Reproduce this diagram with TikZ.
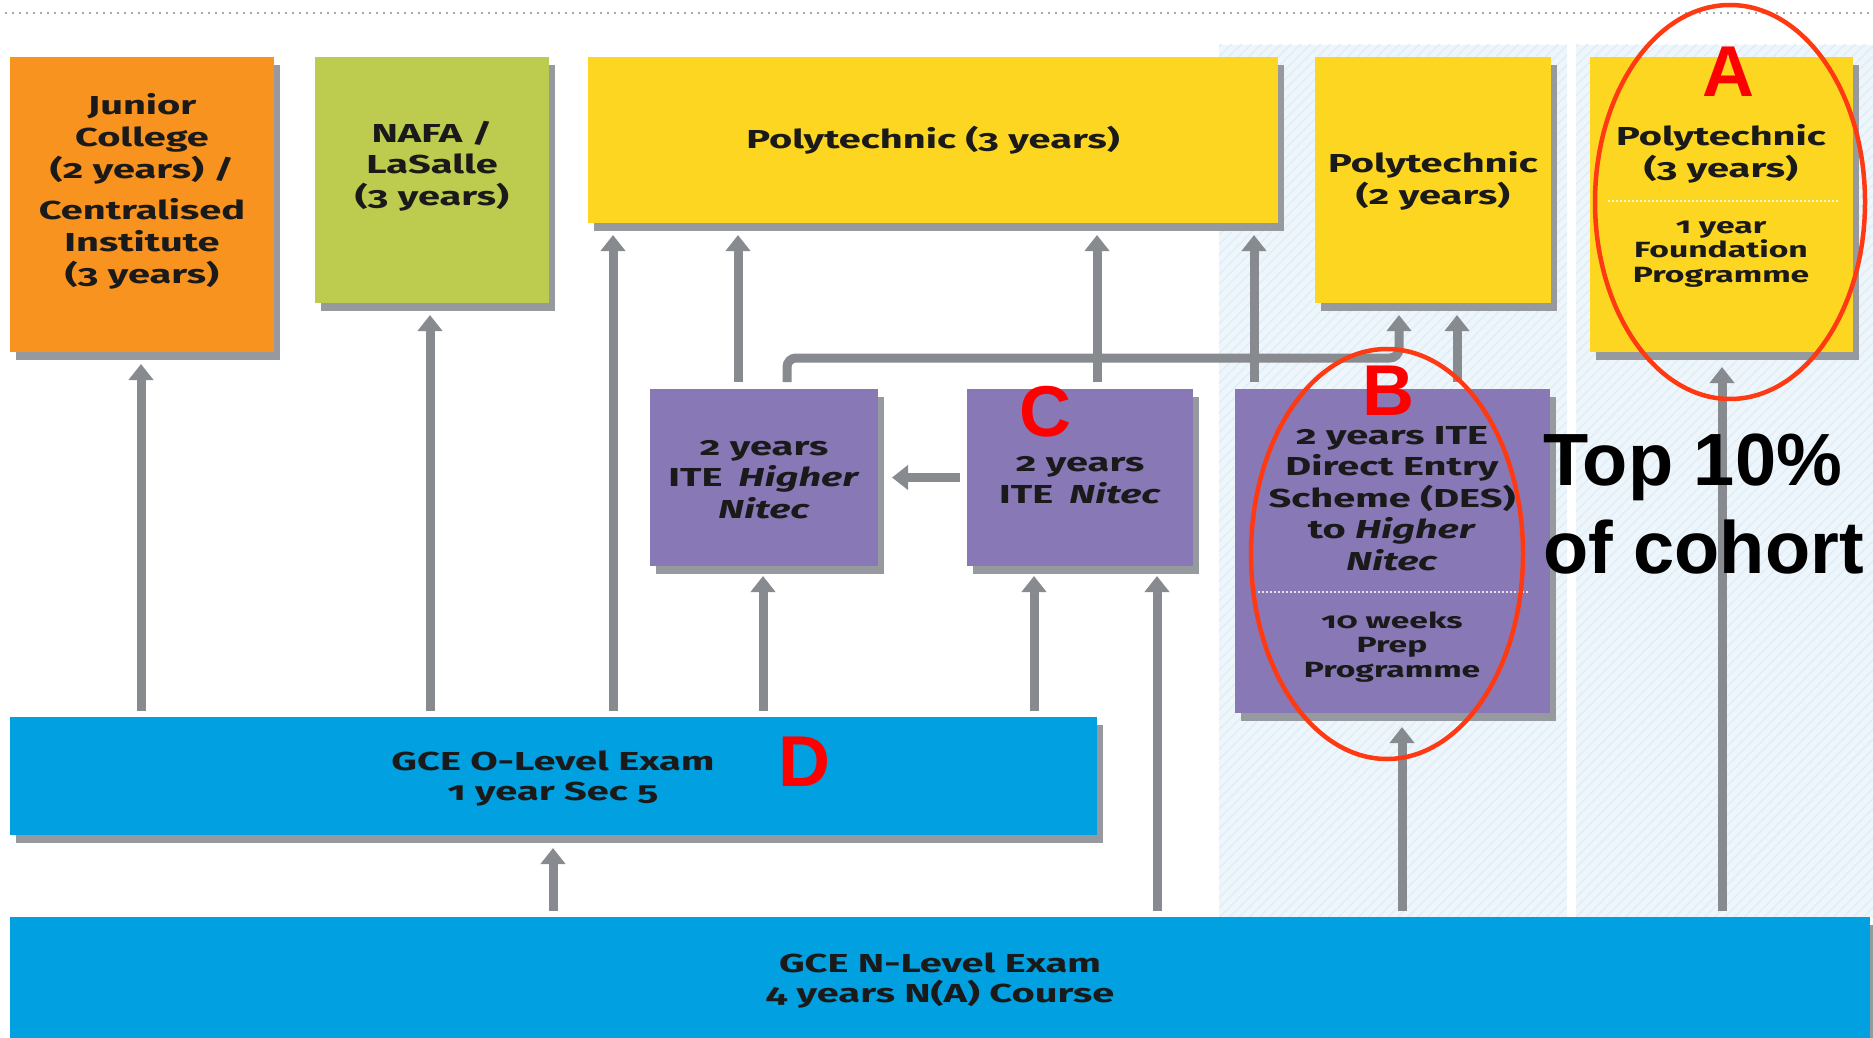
\documentclass[tikz,border=0pt]{standalone}
\usepackage{fontspec}
\setmainfont{Fira Sans}[Numbers=OldStyle,FakeStretch=1.53]
\newfontfamily\arialfont{Liberation Sans}
\usetikzlibrary{arrows.meta,shadows,patterns.meta}
\definecolor{orangec}{HTML}{F7931E}
\definecolor{greenc}{HTML}{BDCB4F}
\definecolor{yellowc}{HTML}{FCD621}
\definecolor{purplec}{HTML}{8878B6}
\definecolor{bluec}{HTML}{00A0E1}
\definecolor{arrowc}{HTML}{878B90}
\definecolor{shadowc}{HTML}{969A9E}
\definecolor{hatchbg}{HTML}{EEF6FB}
\definecolor{hatchline}{HTML}{DFEEF7}
\definecolor{redc}{HTML}{FF0000}
\definecolor{ellc}{HTML}{FF3A12}
\definecolor{textc}{HTML}{1A1A1A}
\definecolor{dotc}{HTML}{A6A9AD}
\tikzset{
  box/.style={draw=none, inner sep=0pt, outer sep=0pt,
    drop shadow={shadow xshift=6pt, shadow yshift=-8pt, fill=shadowc, opacity=1}},
  txt/.style={text=textc, align=center, anchor=base, inner sep=0pt,
    font=\bfseries\fontsize{26}{31.5}\selectfont},
  smalltxt/.style={txt, font=\bfseries\fontsize{22}{24.5}\selectfont},
  arr/.style={draw=arrowc, line width=9pt, shorten <=6pt, shorten >=12pt,
    -{Triangle[width=24pt,length=16pt]}},
  letter/.style={text=redc, anchor=base, inner sep=0pt,
    font=\arialfont\bfseries\fontsize{72}{80}\selectfont},
  ring/.style={draw=ellc, line width=4.5pt},
  sep/.style={draw=white, line width=2pt, dash pattern=on 2pt off 2pt, opacity=0.8}
}
\begin{document}
\begin{tikzpicture}[x=1pt,y=-1pt]
\useasboundingbox (0,0) rectangle (1873,1038);
\fill[white] (0,0) rectangle (1873,1038);
% top dotted rule
\draw[dotc, line width=2.5pt, dash pattern=on 2pt off 5pt] (5,13) -- (1873,13);
% hatched background panels
\fill[hatchbg] (1219,45) rectangle (1567,917);
\fill[hatchbg] (1576,45) rectangle (1873,917);
\fill[pattern={Lines[angle=45,distance=7pt,line width=1.5pt]}, pattern color=hatchline] (1219,45) rectangle (1567,917);
\fill[pattern={Lines[angle=45,distance=7pt,line width=1.5pt]}, pattern color=hatchline] (1576,45) rectangle (1873,917);

% boxes
\node[box, fill=orangec, minimum width=264pt, minimum height=295pt] (jc) at (142,204.5) {};
\node[box, fill=greenc, minimum width=234pt, minimum height=246pt] (nafa) at (432,180) {};
\node[box, fill=yellowc, minimum width=690pt, minimum height=166pt] (poly3) at (933,140) {};
\node[box, fill=yellowc, minimum width=236pt, minimum height=246pt] (poly2) at (1433,180) {};
\node[box, fill=yellowc, minimum width=263pt, minimum height=295pt] (polyA) at (1721.5,204.5) {};
\node[box, fill=purplec, minimum width=228pt, minimum height=177pt] (hn) at (764,477.5) {};
\node[box, fill=purplec, minimum width=226pt, minimum height=177pt] (nitec) at (1080,477.5) {};
\node[box, fill=purplec, minimum width=315pt, minimum height=324pt] (des) at (1392.5,551) {};
\node[box, fill=bluec, minimum width=1087pt, minimum height=118pt] (olevel) at (553.5,776) {};
\node[box, fill=bluec, minimum width=1860pt, minimum height=130pt] (nlevel) at (940,982) {};

% separators
\draw[sep] (1608,201) -- (1838,201);
\draw[sep] (1258,592) -- (1530,592);

% arrow columns
\coordinate (x141) at (141,0);
\coordinate (x430) at (430,0);
\coordinate (x613) at (613,0);
\coordinate (x738) at (738,0);
\coordinate (x763) at (763,0);
\coordinate (x1097) at (1097,0);
\coordinate (x1034) at (1034,0);
\coordinate (x1157) at (1157,0);
\coordinate (x1254) at (1254,0);
\coordinate (x1457) at (1457,0);
\coordinate (x1402) at (1402,0);
\coordinate (x1722) at (1722,0);
\coordinate (x553) at (553,0);
\coordinate (x787) at (787,0);
\coordinate (x1399) at (1399,0);
\coordinate (kn) at (0,358);

\draw[arr] (x141 |- olevel.north) -- (x141 |- jc.south);
\draw[arr] (x430 |- olevel.north) -- (x430 |- nafa.south);
\draw[arr] (x613 |- olevel.north) -- (x613 |- poly3.south);
\draw[arr, shorten <=7pt] (x738 |- hn.north) -- (x738 |- poly3.south);
\draw[arr, shorten >=10pt] (x763 |- olevel.north) -- (x763 |- hn.south);
\draw[arr, shorten <=7pt] (x1097 |- nitec.north) -- (x1097 |- poly3.south);
\draw[arr, shorten >=10pt] (x1034 |- olevel.north) -- (x1034 |- nitec.south);
\draw[arr, shorten >=10pt] (x1157 |- nlevel.north) -- (x1157 |- nitec.south);
\draw[arr, shorten <=7pt] (x1254 |- des.north) -- (x1254 |- poly3.south);
\draw[arr, shorten <=7pt] (x1457 |- des.north) -- (x1457 |- poly2.south);
\draw[arr, shorten >=14pt] (x1402 |- nlevel.north) -- (x1402 |- des.south);
\draw[arr, shorten >=15pt] (x1722 |- nlevel.north) -- (x1722 |- polyA.south);
\draw[arr, shorten >=13pt] (x553 |- nlevel.north) -- (x553 |- olevel.south);
\draw[arr, shorten <=7pt, rounded corners=9pt] (x787 |- hn.north) -- (x787 |- kn) -- (x1399 |- kn) -- (x1399 |- poly2.south);
\draw[arr, shorten <=7pt, shorten >=14pt] (nitec.west) -- (hn.east);

% texts (anchor=base is the baseline of the last line)
\node[txt, font=\bfseries\fontsize{26}{32}\selectfont] (tjc) at (142,283) {Junior\\College\\(2 years) /\\[9pt]Centralised\\Institute\\(3 years)};
\node[txt] (tnafa) at (432,205) {NAFA /\\LaSalle\\(3 years)};
\node[txt] (tpoly3) at (933,148) {Polytechnic (3 years)};
\node[txt] (tpoly2) at (1433,204) {Polytechnic\\(2 years)};
\node[txt] (tpolyA) at (1721,177) {Polytechnic\\(3 years)};
\node[smalltxt] (tpolyAb) at (1721,282) {1 year\\Foundation\\Programme};
\node[txt] (thn) at (764,518) {2 years\\ITE\hspace{16pt}\textit{Higher}\\\textit{Nitec}};
\node[txt] (tnitec) at (1080,503) {2 years\\ITE\hspace{16pt}\textit{Nitec}};
\node[txt] (tdes) at (1392,570) {2 years ITE\\Direct Entry\\Scheme (DES)\\to \textit{Higher}\\\textit{Nitec}};
\node[smalltxt] (tdesb) at (1392,677) {10 weeks\\Prep\\Programme};
\node[txt, font=\bfseries\fontsize{26}{30}\selectfont] (tol) at (553,800) {GCE O-Level Exam\\1 year Sec 5};
\node[txt, font=\bfseries\fontsize{26}{30}\selectfont] (tnl) at (940,1002) {GCE N-Level Exam\\4 years N(A) Course};

% annotations
\node[anchor=base west, align=left, inner sep=0pt, text=black,
  font=\arialfont\bfseries\fontsize{74}{88}\selectfont] (top) at (1543,573) {Top 10\%\\of cohort};
\draw[ring] (1730,202) ellipse [x radius=135pt, y radius=197pt];
\draw[ring] (1387,554) ellipse [x radius=136pt, y radius=205pt];
\node[letter] (la) at (1728,97) {A};
\node[letter] (lb) at (1388,415) {B};
\node[letter] (lc) at (1045,436) {C};
\node[letter] (ld) at (804,786) {D};
\end{tikzpicture}
\end{document}
